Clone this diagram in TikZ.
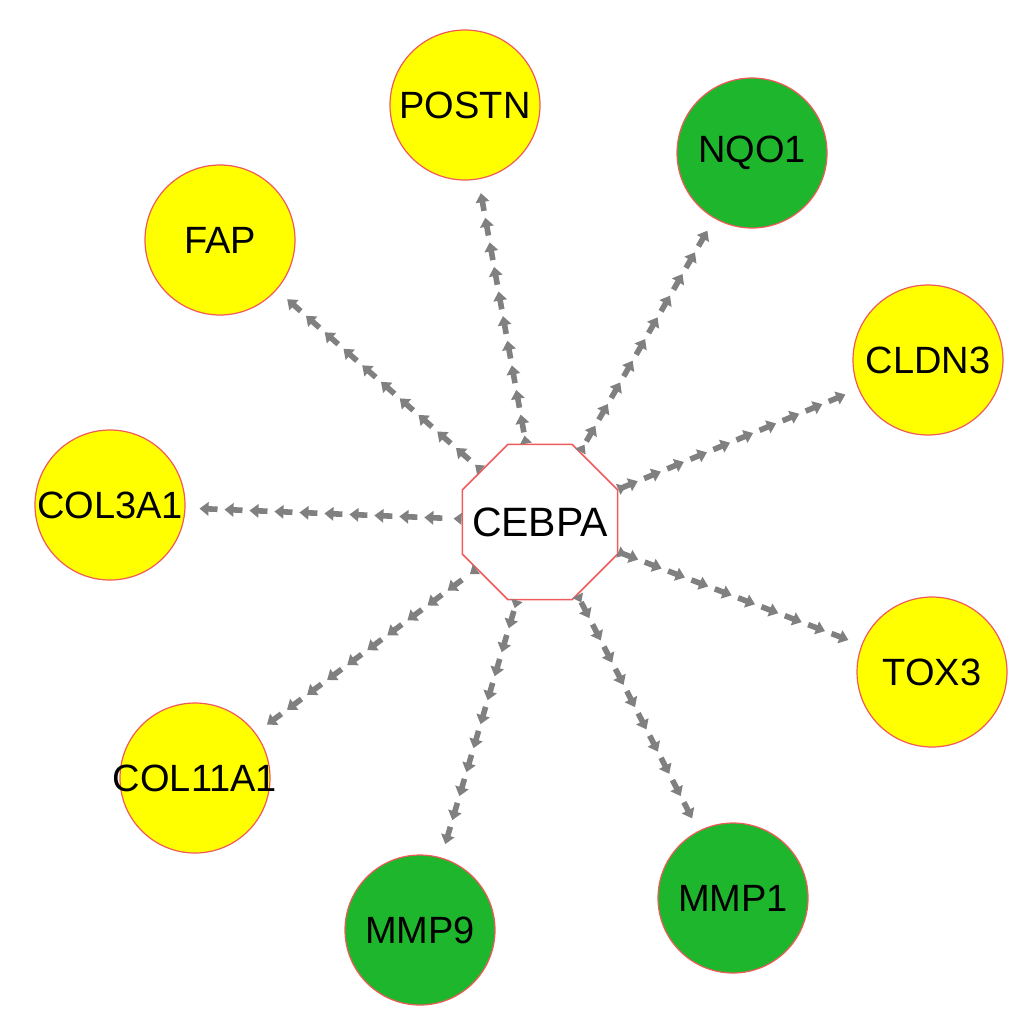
\documentclass[tikz,border=0pt]{standalone}
\usepackage{fontspec}
\setmainfont{Liberation Sans}
\usetikzlibrary{shapes.geometric,decorations.markings}
\definecolor{geneyellow}{RGB}{255,255,0}
\definecolor{genegreen}{RGB}{30,182,45}
\definecolor{rimred}{RGB}{240,90,90}
\definecolor{edgegray}{RGB}{128,128,128}

\begin{document}
\begin{tikzpicture}[x=0.5pt,y=-0.5pt,font=\fontsize{19}{22}\selectfont,
  gene/.style={circle,draw=rimred,line width=0.6pt,minimum size=75pt,inner sep=0pt},
  hub/.style={regular polygon,regular polygon sides=8,draw=rimred,line width=0.8pt,
    fill=white,minimum size=84pt,inner sep=0pt,font=\fontsize{20.5}{24}\selectfont},
  flow/.style={decoration={markings,
      mark=between positions 7pt and -10pt step 12.5pt with {
        \fill[edgegray] (0,0) -- (4.5pt,3.5pt) -- (4.5pt,-3.5pt) -- cycle;
        \draw[edgegray,line width=2.8pt] (4pt,0) -- (9pt,0);},
      mark=at position 1 with {
        \fill[edgegray] (0,3pt) -- (-4pt,0) -- (0,-3pt) -- cycle;}},
    postaction={decorate}}]
  \useasboundingbox (0,0) rectangle (1036,1023);
  \node[hub] (CEBPA) at (540,522) {\makebox[0pt]{CEBPA}};
  \foreach \name/\x/\y/\col in {POSTN/465/105/geneyellow,NQO1/752/153/genegreen,
      FAP/220/240/geneyellow,CLDN3/928/360/geneyellow,COL3A1/110/505/geneyellow,
      TOX3/932/672/geneyellow,COL11A1/195/778/geneyellow,MMP9/420/930/genegreen,
      MMP1/733/898/genegreen}
    \node[gene,fill=\col] (\name) at (\x,\y) {\makebox[0pt]{\name}};

  % edges run from each target back to the hub
  \foreach \name in {POSTN,NQO1,FAP,CLDN3,COL3A1,TOX3,COL11A1,MMP9,MMP1}
    \path[flow] (\name) -- (CEBPA);
\end{tikzpicture}
\end{document}
